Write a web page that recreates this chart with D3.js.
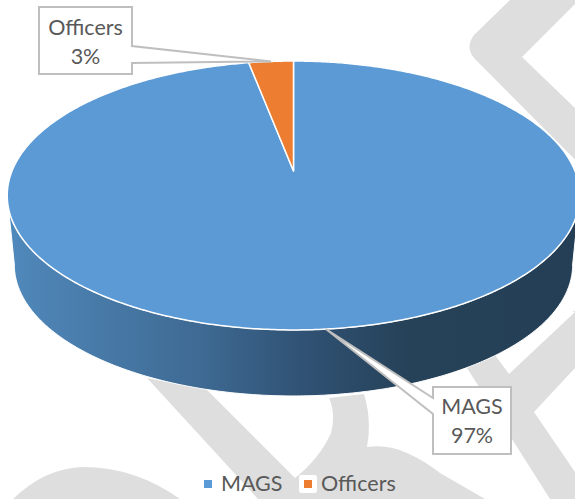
<!DOCTYPE html>
<html>
<head>
<meta charset="utf-8">
<script src="https://cdn.jsdelivr.net/npm/d3@7"></script>
<style>
  html, body { margin: 0; padding: 0; background: #fff; overflow: hidden; }
  svg { display: block; }
  text { font-family: Lato, "Open Sans", sans-serif; fill: #595959; }
</style>
</head>
<body>
<div id="main"></div>
<script>
'use strict';

var categories = ['MAGS', 'Officers'];
var values = [97, 3];
var colors = ['#5b9ad5', '#ed7d31'];

var width = 575;
var height = 499;

// tilted disc: a unit circle pushed through a perspective transform
var P = {
  cx: 293.5,
  apexY: 171,
  R: 281.5,
  squash: 130,
  k: 0.182,
  depth: 70,
  bottomScale: 0.975
};

// label boxes, the pointer tip comes from the middle of the slice
var boxes = [
  { x: 433, y: 387, w: 78, h: 67, side: 'left', p0: 398, p1: 414, line1: 414, line2: 443 },
  { x: 39, y: 7, w: 93, h: 67, side: 'right', p0: 46, p1: 63, line1: 35, line2: 64 }
];

// grey watermark behind the chart
var watermark = [
  'M510,0 L474,35 Q465,47 474,58 L640,225 L575,311 L572,312 L640,312 L640,108 L575,108 L522,57 L579,0 Z',
  'M467,368 L495,355 L509,374 L575,312 L575,368 L534,412 L575,472 L575,499 L550,499 Z',
  'M147,378 L207,390 L295,478 Q320,458 331,433 Q336,414 329,398 L364,394 Q372,420 367,447 ' +
    'Q388,444 407,453 Q425,461 440,473 L485,499 L258,499 Z',
  'M13,499 Q45,468 83,467 Q135,467 180,499 Z'
];

var svg = d3.select('#main').append('svg')
  .attr('width', width)
  .attr('height', height);

var defs = svg.append('defs');
var wallGradient = defs.append('linearGradient')
  .attr('id', 'wall')
  .attr('gradientUnits', 'userSpaceOnUse')
  .attr('x1', 8).attr('x2', 575)
  .attr('y1', 0).attr('y2', 0);

[[0, '#5089bc'], [0.16, '#487aa8'], [0.34, '#3e6a93'], [0.52, '#305274'], [0.7, '#264259'], [1, '#243f55']]
  .forEach(function(s) {
    wallGradient.append('stop').attr('offset', s[0]).attr('stop-color', s[1]);
  });

svg.append('g').selectAll('path')
  .data(watermark)
  .enter().append('path')
  .attr('d', function(d) { return d; })
  .attr('fill', '#dedede');

function project(angle, scale, dy) {
  var u = Math.sin(angle);
  var v = Math.cos(angle);
  var w = 1 + P.k * v;
  return [
    P.cx + scale * P.R * u / w,
    P.apexY + dy - scale * P.squash * v / w
  ];
}

function arcPoints(a0, a1, scale, dy) {
  var n = Math.max(2, Math.ceil(Math.abs(a1 - a0) / 0.01));
  return d3.range(n + 1).map(function(i) {
    return project(a0 + (a1 - a0) * i / n, scale, dy);
  });
}

var line = d3.line();
var pie = d3.pie().sort(null).value(function(d) { return d; });
var slices = pie(values);

// the wall under the front edge, between the two side tangents
var frontA = Math.acos(-P.k);
var frontB = 2 * Math.PI - frontA;
var wallPoints = arcPoints(frontA, frontB, P.bottomScale, P.depth)
  .concat(arcPoints(frontB, frontA, 1, 0));

svg.append('path')
  .attr('d', line(wallPoints) + 'Z')
  .attr('fill', 'url(#wall)')
  .attr('stroke', '#fff')
  .attr('stroke-width', 1);

// top face
svg.append('g').selectAll('path')
  .data(slices)
  .enter().append('path')
  .attr('d', function(d) {
    var pts = [[P.cx, P.apexY]].concat(arcPoints(d.startAngle, d.endAngle, 1, 0));
    return line(pts) + 'Z';
  })
  .attr('fill', function(d, i) { return colors[i]; })
  .attr('stroke', '#fff')
  .attr('stroke-width', 1.5)
  .attr('stroke-linejoin', 'round');

// callouts
boxes.forEach(function(b, i) {
  var d = slices[i];
  var tip = project((d.startAngle + d.endAngle) / 2, 1, 0);
  var edge = b.side === 'left' ? b.x : b.x + b.w;
  var pts;
  if (b.side === 'left') {
    pts = [[b.x, b.y], [b.x + b.w, b.y], [b.x + b.w, b.y + b.h], [b.x, b.y + b.h],
      [edge, b.p1], tip, [edge, b.p0]];
  } else {
    pts = [[b.x, b.y], [edge, b.y], [edge, b.p0], tip, [edge, b.p1],
      [edge, b.y + b.h], [b.x, b.y + b.h]];
  }
  svg.append('path')
    .attr('d', line(pts) + 'Z')
    .attr('fill', '#fff')
    .attr('stroke', '#bfbfbf')
    .attr('stroke-width', 2);

  svg.append('text')
    .attr('x', b.x + b.w / 2)
    .attr('y', b.line1)
    .attr('text-anchor', 'middle')
    .attr('font-size', 21.5)
    .text(categories[i]);
  svg.append('text')
    .attr('x', b.x + b.w / 2)
    .attr('y', b.line2)
    .attr('text-anchor', 'middle')
    .attr('font-size', 21.5)
    .text(values[i] + '%');
});

// legend
var legendX = d3.scaleOrdinal().domain(categories).range([204, 304]);

svg.append('rect')
  .attr('x', 299).attr('y', 475)
  .attr('width', 18).attr('height', 18)
  .attr('rx', 2)
  .attr('fill', '#fff');

var legend = svg.append('g').selectAll('g')
  .data(categories)
  .enter().append('g')
  .attr('transform', function(d) { return 'translate(' + legendX(d) + ',480)'; });

legend.append('rect')
  .attr('width', 8)
  .attr('height', 8)
  .attr('fill', function(d, i) { return colors[i]; });

legend.append('text')
  .attr('x', 17)
  .attr('y', 10.5)
  .attr('font-size', 21.5)
  .text(function(d) { return d; });
</script>
</body>
</html>
